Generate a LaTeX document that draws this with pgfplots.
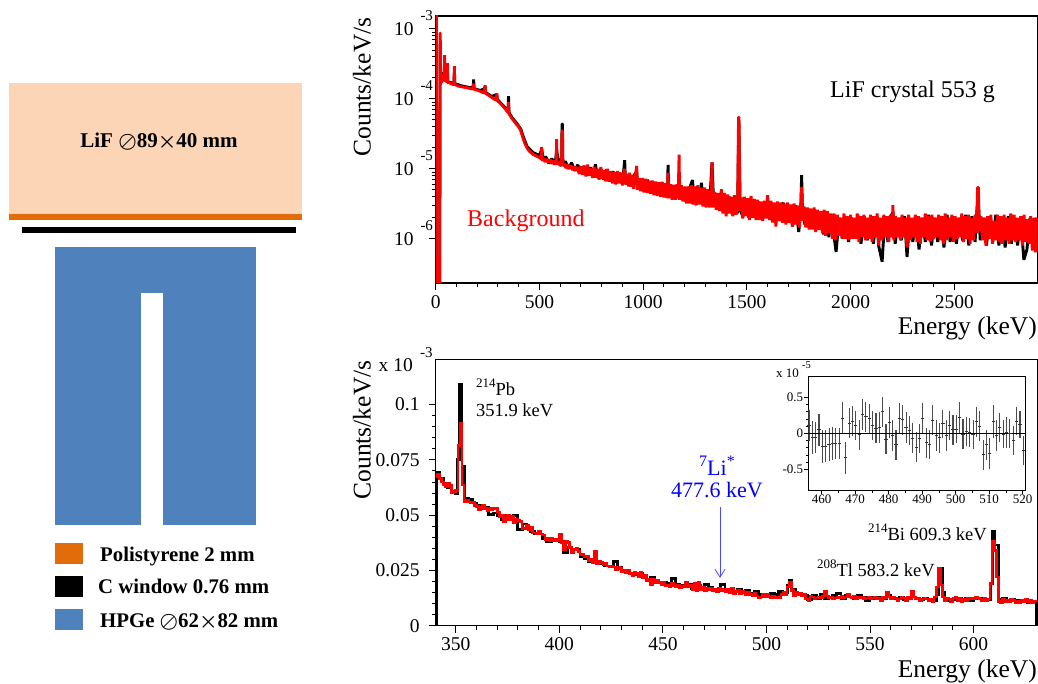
\documentclass[border=0pt]{standalone}
\usepackage{pgfplots}
\pgfplotsset{compat=1.18}
\usetikzlibrary{arrows.meta}
\usepackage{fontspec}
\setmainfont{Liberation Serif}
\newcommand\fs[1]{\fontsize{#1}{#1}\selectfont}
\definecolor{peach}{HTML}{FBD5B5}
\definecolor{orng}{HTML}{E36C0A}
\definecolor{hpge}{HTML}{4F81BD}
\definecolor{arrowblue}{HTML}{4A4AFF}
\newcommand\dec[1]{10\rlap{\hspace{7pt}\smash{\raisebox{15pt}{\fs{15}#1}}}}
\begin{document}
\begin{tikzpicture}
\path[use as bounding box] (0pt,0pt) rectangle (1038pt,683pt);
% ---------- detector sketch ----------
\fill[peach] (9pt,469pt) rectangle (302pt,600pt);
\fill[orng] (9pt,463pt) rectangle (302pt,469pt);
\fill[black] (22pt,450pt) rectangle (296pt,456pt);
\fill[hpge] (55pt,158pt) rectangle (256pt,436pt);
\fill[white] (141pt,158pt) rectangle (163pt,390pt);
\node[font=\fs{21}\bfseries\boldmath] at (159pt,541pt) {LiF ${\oslash}$89${\times}$40 mm};
\fill[orng] (55pt,119pt) rectangle (83pt,140pt);
\fill[black] (55pt,86pt) rectangle (83pt,107pt);
\fill[hpge] (55pt,53pt) rectangle (83pt,74pt);
\node[anchor=base west,inner sep=0pt,font=\fs{20.8}\bfseries\boldmath] at (100pt,122pt) {Polistyrene 2 mm};
\node[anchor=base west,inner sep=0pt,font=\fs{20.8}\bfseries\boldmath] at (98pt,90pt) {C window 0.76 mm};
\node[anchor=base west,inner sep=0pt,font=\fs{20.8}\bfseries\boldmath] at (100pt,56pt) {HPGe ${\oslash}$62${\times}$82 mm};
% ---------- top panel (y data in units of 1e-6 counts/keV/s) ----------
\begin{axis}[
  name=top, scale only axis, anchor=south west, at={(435.7pt,400pt)},
  width=602pt, height=267pt,
  xmin=0, xmax=2902, ymode=log, ymin=0.233, ymax=1530,
  axis line style={line width=1.1pt}, tick style={black,line width=0.9pt},
  tick align=outside, major tick length=7pt, minor tick length=4pt,
  xtick={0,500,1000,1500,2000,2500}, minor x tick num=4,
  ytick={1,10,100,1000}, yticklabels={\dec{-6},\dec{-5},\dec{-4},\dec{-3}},
  log ticks with fixed point=false,
  xtick pos=bottom, ytick pos=left,
  /pgf/number format/assume math mode=true,
  /pgf/number format/set thousands separator={},
  xticklabel style={font=\fs{19.5},inner sep=0pt,yshift=-5pt},
  yticklabel style={font=\fs{19.5},inner sep=0pt,xshift=-15pt},
]
\addplot[black,line width=2.9pt,line join=bevel] coordinates {
(0,0.2)(1,2000)(3,2000)(4,0.2)(19,0.2)(21,600)(22,600)(23,170)(26,240)(30,195)(40,190)(43,330)(45,190)(54,180)(56,260)(58,175)(75,170)(88,165)(90,240)(92,165)(100,162)(130,152)(170,144)(181,150)(183,190)(185,140)(215,132)(236,140)(238,150)(240,124)(270,108)(293,115)(295,112)(297,98)(325,80)(349,68)(351,109)(353,64)(370,53)(390,45)(410,37)(420,30)(430,25)(440,21)(450,19.5)(470,17)(490,16)
(500,15.5)(511,19)(520,13)(530,15)(545,12)(560,14)(575,11.5)(583,18)(590,14)(600,12)(607,11)(609,43.6)(611,43.6)(613,11)(625,12.8)(640,10)(655,12.2)(670,9.4)(685,11.4)(700,8.6)(715,11)(730,8)(745,10.5)(760,7.6)(770,11.6)(780,7.4)(795,10)(810,7)(825,9.8)(840,6.6)(855,9.2)(870,6.2)(885,8.8)(900,6)(911,13.3)(915,6)(934,8.6)(940,5.6)(955,8)(969,9)(975,5.2)(990,7)(1005,4.8)(1020,7)(1035,4.6)(1050,6.4)(1065,4.3)(1080,6.2)(1095,4.2)(1110,6)(1117,4)(1120,11.4)(1124,4)(1140,5.6)(1155,3.8)(1170,5.8)(1173,9)(1180,3.7)(1195,5.4)(1210,3.4)(1225,5.4)(1238,6.9)(1245,3.3)(1260,5.6)(1270,3.3)(1281,6.3)(1290,3.1)(1305,5)(1320,2.9)(1332,12.4)(1340,3.1)(1355,4.4)(1370,2.6)(1385,4.4)(1400,2.3)(1415,4)(1430,2.2)(1445,3.9)(1455,2.3)(1461,50)(1468,2.6)(1480,2.1)(1495,3.6)(1510,2)(1525,3.5)(1540,2)(1555,3.4)(1570,1.9)(1585,3.2)(1600,2)(1615,3.4)(1630,1.8)(1645,3.1)(1660,1.8)(1675,3.3)(1690,1.7)(1705,2.9)(1720,1.5)(1735,3)(1750,1.25)(1760,2.7)(1764,8.1)(1768,2.4)(1780,1.6)(1795,2.7)(1810,1.4)(1825,2.6)(1840,1.35)(1855,2.4)(1870,1.15)(1885,2.3)(1895,1.05)(1905,2.2)(1920,1.1)(1930,.65)(1945,2)(1960,1)(1975,2.1)(1990,.9)(2005,2)(2020,1)(2035,2.2)(2050,.85)(2065,2.1)(2080,.95)(2095,2)(2110,.85)(2125,2.1)(2135,.8)(2152,.47)(2165,2)(2180,.9)(2195,2.1)(2204,2.4)(2215,.85)(2230,2)(2245,.95)(2260,2.1)(2272,.55)(2285,1.9)(2300,.9)(2315,2.1)(2330,.7)(2345,2)(2360,.9)(2375,2.2)(2390,.8)(2405,2)(2420,.9)(2435,2)(2450,.75)(2465,2.2)(2480,.9)(2495,2.1)(2510,.85)(2525,2)(2540,.95)(2555,2.2)(2570,.8)(2585,2.1)(2600,.9)(2614,4.5)(2625,.95)(2640,2)(2655,.8)(2670,2.1)(2685,.9)(2700,2.2)(2715,.8)(2730,2)(2745,.75)(2760,2.1)(2775,.85)(2790,2)(2805,.8)(2820,2.1)(2835,.5)(2850,.7)(2865,2)(2880,.75)(2895,2)(2902,.8)
};
\addplot[red,line width=2.9pt,line join=bevel] coordinates {
(0,0.2)(1,2000)(3,2000)(4,0.2)(19,0.2)(21,870)(22,870)(23,160)(26,230)(28,170)(32,190)(38,185)(41,190)(43,420)(45,180)(50,180)(54,175)(56,323)(58,170)(65,170)(75,165)(85,160)(88,160)(90,293)(92,160)(100,157)(110,152)(120,150)(130,148)(140,146)(150,144)(160,142)(170,140)(178,138)(181,150)(183,165)(185,137)(195,135)(205,132)(215,128)(225,124)(233,121)(236,140)(238,157)(240,120)(250,115)(260,110)(270,105)(280,100)(290,96)(293,108)(295,120)(297,94)(305,90)(315,84)(325,78)(335,72)(345,66)(349,64)(351,90)(353,61)(360,57)(370,51)(380,47)(390,43)(400,40)(410,35)(420,28)(430,23)(440,20)(450,18)(460,17)(470,16)(480,15.5)(490,15)
(500,14.5)(504,15)(508,13.5)(511,20.5)(514,13)(520,14.2)(528,12.5)(536,13.8)(544,12.2)(552,13.6)(560,11.8)(568,13.2)(576,11.6)(581,12.8)(583,26.5)(585,11.5)(592,12.6)(600,11)(607,12.4)(609,35)(611,35)(613,11)(620,11.8)(628,10.2)(636,11.6)(644,10)(652,11.2)(660,9.6)(668,10.8)(676,9.4)(684,10.6)(692,8.4)(700,10.9)(708,8.2)(716,10.8)(724,7.8)(732,11.5)(740,8)(748,10.2)(756,7.4)(764,10.8)(772,7.5)(780,10)(788,7)(796,10.6)(804,7.2)(812,9.6)(820,6.6)(828,10)(836,6.6)(844,9.2)(852,6.2)(860,9)(868,6)(876,9.3)(884,6.2)(892,8.8)(900,5.8)(908,9.3)(911,10)(914,6)(922,8.4)(930,5.6)(934,8.8)(938,5.6)(946,8.2)(954,5.2)(962,7.8)(969,11)(972,5)(980,7.4)(988,4.8)(996,7.4)(1004,4.6)(1012,7.2)(1020,4.5)(1028,6.8)(1036,4.4)(1044,6.8)(1052,4.2)(1060,6.6)(1068,4.1)(1076,6.4)(1084,4)(1092,6.5)(1100,3.9)(1108,6.2)(1116,3.8)(1120,8.7)(1124,3.8)(1132,6)(1140,3.6)(1148,5.9)(1156,3.6)(1164,6)(1170,3.8)(1173,16)(1176,3.6)(1184,5.8)(1192,3.4)(1200,5.6)(1208,3.2)(1216,5.6)(1224,3.2)(1232,5.8)(1240,3.1)(1248,5.6)(1256,3)(1264,5.8)(1272,3.1)(1280,5.4)(1288,2.9)(1296,5.4)(1304,2.8)(1312,5.1)(1320,2.8)(1329,4.9)(1332,12.4)(1335,2.8)(1344,4.7)(1352,2.6)(1360,4.5)(1368,2.5)(1377,5.1)(1384,2.3)(1392,4.5)(1400,2.1)(1408,4.3)(1416,2.3)(1424,4)(1432,2.1)(1440,4.2)(1448,2.2)(1456,3.6)(1460,54.6)(1462,54.6)(1466,2.5)(1472,3.9)(1480,1.95)(1488,4)(1496,2.1)(1504,3.8)(1512,1.85)(1520,4.1)(1528,2)(1536,3.7)(1544,1.85)(1552,3.6)(1560,1.85)(1568,3.4)(1576,1.8)(1584,3.5)(1592,1.95)(1600,4.2)(1608,1.85)(1616,3.5)(1624,1.7)(1632,3.3)(1640,1.5)(1648,3.4)(1656,1.8)(1664,3.3)(1672,1.7)(1680,3.2)(1688,1.6)(1696,3.3)(1704,1.7)(1712,3.1)(1720,1.5)(1728,3.2)(1736,1.6)(1744,3)(1752,1.45)(1760,2.8)(1764,5.5)(1768,1.8)(1776,2.9)(1784,1.45)(1792,2.8)(1800,1.35)(1808,2.7)(1816,1.35)(1824,2.8)(1832,1.25)(1840,2.6)(1848,1.35)(1856,2.5)(1864,1.2)(1872,2.6)(1880,1.1)(1888,2.5)(1896,1.2)(1904,2.3)(1912,1)(1920,2.3)(1928,.95)(1936,2.2)(1944,1.1)(1952,2)(1960,1)(1968,2.3)(1976,1)(1984,2.1)(1992,.95)(2000,2.2)(2008,1)(2016,2)(2024,1)(2032,2.3)(2040,.9)(2048,2.1)(2056,1.05)(2064,2.2)(2072,.95)(2080,2)(2088,1)(2096,2.2)(2104,.9)(2112,2.1)(2120,1.05)(2128,2.3)(2136,.8)(2144,2)(2152,.95)(2160,2.2)(2168,1.05)(2176,2.1)(2184,.9)(2192,2.2)(2200,1.05)(2204,3.03)(2208,.95)(2216,2.1)(2224,1.05)(2232,2)(2240,.95)(2248,2.2)(2256,1.05)(2264,2)(2272,.75)(2280,2.2)(2288,.95)(2296,2)(2304,1.05)(2312,2.2)(2320,.9)(2328,2.1)(2336,.85)(2344,2)(2352,1.05)(2360,2.3)(2368,.95)(2376,2.1)(2384,.9)(2392,2.2)(2400,1)(2408,2)(2416,1.05)(2424,2.2)(2432,.95)(2440,2.1)(2448,.85)(2456,2.3)(2464,.95)(2472,2)(2480,1.05)(2488,2.2)(2496,.9)(2504,2.1)(2512,1)(2520,2)(2528,1.05)(2536,2.3)(2544,.9)(2552,2.1)(2560,1)(2568,2.2)(2576,.85)(2584,2)(2592,.95)(2600,2.2)(2608,1.2)(2612,5.4)(2616,5.4)(2620,1.3)(2628,2.1)(2636,.95)(2644,2)(2652,.8)(2660,2.1)(2668,1)(2676,2.2)(2684,.85)(2692,1.8)(2700,.95)(2708,2.2)(2716,.9)(2724,2.1)(2732,.85)(2740,2.2)(2748,.95)(2756,2)(2764,.85)(2772,2.3)(2780,.95)(2788,2.2)(2796,.9)(2804,2)(2812,.95)(2820,2.1)(2828,.8)(2836,2.2)(2844,.9)(2852,1.9)(2860,.85)(2868,2.1)(2876,.68)(2884,2)(2892,.64)(2902,2)
};
\end{axis}
\node[anchor=base west,inner sep=0pt,font=\fs{24},text=red] at (467pt,456pt) {Background};
\node[anchor=base west,inner sep=0pt,font=\fs{24}] at (830pt,585pt) {LiF crystal 553 g};
\node[anchor=base east,inner sep=0pt,font=\fs{25.5}] at (1037pt,348pt) {Energy (keV)};
\node[rotate=90,inner sep=0pt,font=\fs{25.5}] at (362pt,596pt) {Counts/keV/s};
% ---------- bottom panel ----------
\begin{axis}[
  name=bot, scale only axis, anchor=south west, at={(435.7pt,57.3pt)},
  width=602pt, height=266.4pt,
  xmin=340.3, xmax=631, ymin=0, ymax=0.1205,
  axis line style={line width=1.1pt}, tick style={black,line width=0.9pt},
  tick align=outside, major tick length=7pt, minor tick length=4pt,
  xtick={350,400,450,500,550,600}, minor x tick num=4,
  ytick={0,0.025,0.05,0.075,0.1}, yticklabels={0,0.025,0.05,0.075,0.1}, minor y tick num=4,
  xtick pos=bottom, ytick pos=left,
  /pgf/number format/assume math mode=true,
  xticklabel style={font=\fs{19.5},inner sep=0pt,yshift=-5pt},
  yticklabel style={font=\fs{19.5},inner sep=0pt,xshift=-9pt},
  clip mode=individual,
]
\addplot[black,line width=2.9pt,const plot,line join=miter] coordinates {
(340.5,0)(340.5,.0695)(342,.0665)(344,.0645)(346,.0625)(348,.0605)(350,.0600)(351,.0750)(352,.1090)(353,.0722)(354,.0575)(356,.0570)(358,.0555)(360,.0545)(362,.0530)(364,.0535)(366,.0505)(368,.0510)(370,.0500)(372,.0480)(374,.0500)(376,.0490)(378,.0500)(380,.0435)(382,.0460)(384,.0445)(386,.0425)(388,.0415)(390,.0415)(392,.0395)(394,.0380)(396,.0390)(398,.0385)(400,.0380)(402,.0330)(404,.0355)(406,.0345)(408,.0345)(410,.0315)(412,.0305)(414,.0290)(416,.0285)(418,.0285)(420,.0280)(422,.0270)(424,.0270)(426,.0290)(428,.0265)(430,.0250)(432,.0245)(434,.0235)(436,.0230)(438,.0235)(440,.0220)(442,.0210)(444,.0220)(446,.0200)(448,.0195)(450,.0195)(452,.0190)(454,.0215)(456,.0185)(458,.0180)(460,.0175)(462,.0185)(464,.0170)(466,.0180)(468,.0170)(470,.0185)(472,.0175)(474,.0165)(476,.0160)(478,.0185)(480,.0165)(482,.0160)(484,.0155)(486,.0165)(488,.0150)(490,.0160)(492,.0145)(494,.0155)(496,.0140)(498,.0135)(500,.0140)(502,.0145)(504,.0140)(506,.0155)(508,.0150)(510,.0180)(511,.0205)(512,.0165)(514,.0145)(516,.0140)(518,.0135)(520,.0120)(522,.0135)(524,.0125)(526,.0140)(528,.0125)(530,.0130)(532,.0135)(534,.0145)(536,.0125)(538,.0135)(540,.0130)(542,.0125)(544,.0135)(546,.0130)(548,.0115)(550,.0130)(552,.0125)(554,.0130)(556,.0125)(558,.0135)(560,.0130)(562,.0125)(564,.0130)(566,.0120)(568,.0125)(570,.0130)(572,.0125)(574,.0120)(576,.0125)(578,.0120)(580,.0115)(582,.0140)(583,.0225)(584,.0260)(585,.0150)(586,.0125)(588,.0115)(590,.0120)(592,.0125)(594,.0120)(596,.0125)(598,.0115)(600,.0125)(602,.0125)(604,.0125)(606,.0120)(608,.0190)(609,.0425)(610,.0365)(611,.0365)(612,.0120)(614,.0125)(616,.0115)(618,.0120)(620,.0115)(622,.0110)(624,.0115)(626,.0105)(628,.0110)(630.6,.0110)(630.6,0)
};
\addplot[red,line width=2.6pt,const plot,line join=miter] coordinates {
(340,.0675)(341,.0685)(342,.0665)(343,.0650)(344,.0640)(345,.0630)(346,.0645)(347,.0635)(348,.0600)(349,.0605)(350,.0612)(351,.0816)(352,.0915)(353,.0636)(354,.0562)(355,.0565)(356,.0560)(357,.0555)(358,.0560)(359,.0545)(360,.0540)(361,.0525)(362,.0535)(363,.0545)(364,.0530)(365,.0520)(366,.0530)(367,.0525)(368,.0530)(369,.0532)(370,.0515)(371,.0495)(372,.0500)(373,.0470)(374,.0480)(375,.0500)(376,.0480)(377,.0495)(378,.0465)(379,.0480)(380,.0475)(381,.0470)(382,.0440)(383,.0440)(384,.0455)(385,.0435)(386,.0445)(387,.0420)(388,.0420)(389,.0415)(390,.0425)(391,.0415)(392,.0410)(393,.0390)(394,.0395)(395,.0385)(396,.0395)(397,.0385)(398,.0390)(399,.0385)(400,.0415)(401,.0375)(402,.0345)(403,.0380)(404,.0375)(405,.0355)(406,.0330)(407,.0345)(408,.0350)(409,.0335)(410,.0320)(411,.0325)(412,.0310)(413,.0315)(414,.0295)(415,.0300)(416,.0285)(417,.0335)(418,.0280)(419,.0290)(420,.0285)(421,.0275)(422,.0280)(423,.0270)(424,.0265)(425,.0270)(426,.0265)(427,.0255)(428,.0265)(429,.0260)(430,.0245)(431,.0250)(432,.0240)(433,.0250)(434,.0235)(435,.0225)(436,.0240)(437,.0235)(438,.0220)(439,.0240)(440,.0215)(441,.0230)(442,.0205)(443,.0210)(444,.0185)(445,.0210)(446,.0195)(447,.0205)(448,.0195)(449,.0185)(450,.0195)(451,.0180)(452,.0185)(453,.0175)(454,.0190)(455,.0180)(456,.0175)(457,.0185)(458,.0170)(459,.0180)(460,.0175)(461,.0195)(462,.0175)(463,.0185)(464,.0165)(465,.0190)(466,.0160)(467,.0195)(468,.0165)(469,.0175)(470,.0160)(471,.0170)(472,.0165)(473,.0170)(474,.0160)(475,.0165)(476,.0155)(477,.0170)(478,.0160)(479,.0165)(480,.0155)(481,.0165)(482,.0150)(483,.0170)(484,.0145)(485,.0155)(486,.0160)(487,.0145)(488,.0155)(489,.0150)(490,.0140)(491,.0150)(492,.0140)(493,.0135)(494,.0145)(495,.0135)(496,.0125)(497,.0130)(498,.0140)(499,.0130)(500,.0140)(501,.0130)(502,.0125)(503,.0135)(504,.0125)(505,.0130)(506,.0125)(507,.0140)(508,.0150)(509,.0140)(510,.0175)(511,.0195)(512,.0160)(513,.0135)(514,.0150)(515,.0140)(516,.0145)(517,.0135)(518,.0140)(519,.0120)(520,.0115)(521,.0135)(522,.0130)(523,.0120)(524,.0125)(525,.0130)(526,.0125)(527,.0135)(528,.0155)(529,.0135)(530,.0125)(531,.0130)(532,.0120)(533,.0125)(534,.0130)(535,.0125)(536,.0135)(537,.0125)(538,.0130)(539,.0140)(540,.0130)(541,.0125)(542,.0135)(543,.0120)(544,.0130)(545,.0125)(546,.0130)(547,.0120)(548,.0125)(549,.0130)(550,.0120)(551,.0125)(552,.0130)(553,.0120)(554,.0125)(555,.0115)(556,.0130)(557,.0125)(558,.0150)(559,.0130)(560,.0120)(561,.0130)(562,.0125)(563,.0115)(564,.0120)(565,.0130)(566,.0125)(567,.0115)(568,.0130)(569,.0120)(570,.0155)(571,.0130)(572,.0120)(573,.0125)(574,.0115)(575,.0120)(576,.0125)(577,.0120)(578,.0115)(579,.0120)(580,.0110)(581,.0130)(582,.0175)(583,.0260)(584,.0185)(585,.0130)(586,.0115)(587,.0125)(588,.0120)(589,.0110)(590,.0125)(591,.0130)(592,.0115)(593,.0125)(594,.0110)(595,.0120)(596,.0115)(597,.0125)(598,.0120)(599,.0125)(600,.0120)(601,.0130)(602,.0125)(603,.0120)(604,.0115)(605,.0125)(606,.0115)(607,.0120)(608,.0190)(609,.0380)(610,.0340)(611,.0220)(612,.0110)(613,.0105)(614,.0120)(615,.0110)(616,.0115)(617,.0110)(618,.0120)(619,.0115)(620,.0105)(621,.0110)(622,.0105)(623,.0115)(624,.0110)(625,.0120)(626,.0110)(627,.0115)(628,.0105)(629,.0110)(630,.0105)
};
\draw[arrowblue,line width=0.8pt,-{Straight Barb[length=8pt,width=10pt]}] (axis cs:477.6,.0538) -- (axis cs:477.6,.0216);
\end{axis}
\node[anchor=base west,inner sep=0pt,font=\fs{18.5}] at (476pt,287pt) {\raisebox{8pt}{\fs{13}214}Pb};
\node[anchor=base west,inner sep=0pt,font=\fs{18.5}] at (476pt,266pt) {351.9 keV};
\node[inner sep=0pt,font=\fs{22},text=blue] at (717pt,217pt) {\raisebox{9pt}{\fs{16}7}Li\raisebox{9pt}{\fs{16}*}};
\node[inner sep=0pt,font=\fs{22},text=blue] at (717pt,193pt) {477.6 keV};
\node[anchor=base east,inner sep=0pt,font=\fs{18.5}] at (987pt,143pt) {\raisebox{8pt}{\fs{13}214}Bi 609.3 keV};
\node[anchor=base east,inner sep=0pt,font=\fs{18.5}] at (935pt,107pt) {\raisebox{8pt}{\fs{13}208}Tl 583.2 keV};
\node[anchor=base east,inner sep=0pt,font=\fs{25.5}] at (1037pt,6pt) {Energy (keV)};
\node[rotate=90,inner sep=0pt,font=\fs{25.5}] at (362pt,253pt) {Counts/keV/s};
\node[anchor=base east,inner sep=0pt,font=\fs{19.5}] at (413pt,311pt) {x 10};
\node[anchor=base west,inner sep=0pt,font=\fs{15}] at (420pt,325pt) {-3};
% ---------- inset ----------
\begin{axis}[
  name=ins, scale only axis, anchor=south west, at={(808.3pt,193pt)},
  width=217pt, height=114pt,
  xmin=456, xmax=520.8, ymin=-0.7875, ymax=0.796,
  axis line style={line width=0.9pt}, tick style={black,line width=0.7pt},
  tick align=outside, major tick length=4pt, minor tick length=2.5pt,
  xtick={460,470,...,520}, minor x tick num=1,
  ytick={-0.5,0,0.5}, yticklabels={-0.5,0,0.5}, minor y tick num=4,
  xtick pos=bottom, ytick pos=left,
  /pgf/number format/assume math mode=true,
  xticklabel style={font=\fs{13},inner sep=0pt,yshift=-1pt},
  yticklabel style={font=\fs{13},inner sep=0pt,xshift=-1pt},
]
\addplot[black!80,line width=0.9pt,only marks,mark=-,mark size=1.6pt,
  error bars/.cd,y dir=both,y explicit,error bar style={line width=1.1pt,black!70},error mark=none]
 coordinates {
(456.2,.11)+-(0,.22)(457.2,-.06)+-(0,.23)(458.2,-.06)+-(0,.22)(459.2,.05)+-(0,.22)(460.2,-.18)+-(0,.23)(461.2,-.18)+-(0,.22)(462.2,-.15)+-(0,.23)(463.2,-.14)+-(0,.23)(464.2,-.14)+-(0,.22)(465.2,-.14)+-(0,.22)(466.2,.21)+-(0,.22)(467.2,-.34)+-(0,.22)(468.2,.14)+-(0,.21)(469.2,.17)+-(0,.21)(470.2,.11)+-(0,.2)(471.2,-.02)+-(0,.21)(472.2,.26)+-(0,.21)(473.2,.23)+-(0,.21)(474.2,.2)+-(0,.21)(475.2,.11)+-(0,.2)(476.2,.07)+-(0,.21)(477.2,.08)+-(0,.21)(478.2,.3)+-(0,.21)(479.2,-.08)+-(0,.21)(480.2,.15)+-(0,.21)(481.2,-.03)+-(0,.21)(482.2,-.16)+-(0,.21)(483.2,.21)+-(0,.21)(484.2,.19)+-(0,.21)(485.2,.08)+-(0,.21)(486.2,.04)+-(0,.2)(487.2,-.07)+-(0,.21)(488.2,-.19)+-(0,.21)(489.2,-.07)+-(0,.2)(490.2,.21)+-(0,.21)(491.2,-.13)+-(0,.21)(492.2,-.15)+-(0,.2)(493.2,.18)+-(0,.21)(494.2,-.03)+-(0,.21)(495.2,-.06)+-(0,.21)(496.2,.13)+-(0,.2)(497.2,-.03)+-(0,.21)(498.2,.11)+-(0,.2)(499.2,.05)+-(0,.21)(500.2,.06)+-(0,.2)(501.2,.22)+-(0,.21)(502.2,-.01)+-(0,.21)(503.2,.03)+-(0,.2)(504.2,.01)+-(0,.2)(505.2,-.02)+-(0,.2)(506.2,.16)+-(0,.21)(507.2,.1)+-(0,.21)(508.2,-.3)+-(0,.21)(509.2,-.16)+-(0,.21)(510.2,-.28)+-(0,.21)(511.2,.16)+-(0,.23)(512.2,-.03)+-(0,.21)(513.2,.08)+-(0,.2)(514.2,-.01)+-(0,.2)(515.2,.01)+-(0,.21)(516.2,0)+-(0,.2)(517.2,-.1)+-(0,.2)(518.2,.17)+-(0,.19)(519.2,.12)+-(0,.19)(520.2,-.24)+-(0,.2)
};
\addplot[black,line width=0.9pt] coordinates {(456,0)(520.8,0)};
\end{axis}
\node[anchor=base east,inner sep=0pt,font=\fs{13}] at (799pt,305pt) {x 10};
\node[anchor=base west,inner sep=0pt,font=\fs{10.5}] at (802pt,314pt) {-5};
\end{tikzpicture}
\end{document}
